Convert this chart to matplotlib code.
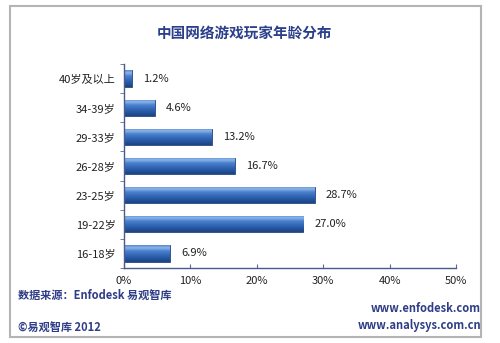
import matplotlib
matplotlib.use("Agg")
import matplotlib.pyplot as plt
import numpy as np
from matplotlib.patches import Rectangle
from matplotlib.colors import LinearSegmentedColormap

plt.rcParams['font.family'] = ['Noto Sans CJK SC', 'DejaVu Sans']

categories = ['16-18岁', '19-22岁', '23-25岁', '26-28岁', '29-33岁', '34-39岁', '40岁及以上']
values = [6.9, 27.0, 28.7, 16.7, 13.2, 4.6, 1.2]
xticks = [0, 10, 20, 30, 40, 50]
xtick_labels = ['0%', '10%', '20%', '30%', '40%', '50%']
title = '中国网络游戏玩家年龄分布'

W, H = 500, 343
fig = plt.figure(figsize=(W / 100, H / 100), dpi=100)
fig.patch.set_facecolor('white')

# outer frame
fig.add_artist(Rectangle((10 / W, 1 - 337 / H), (481 - 10) / W, (337 - 6) / H,
                         transform=fig.transFigure, fill=False,
                         edgecolor='#b4b4b4', linewidth=1.5))

ax = fig.add_axes([124 / W, 1 - 268 / H, (456 - 124) / W, (268 - 64) / H])
ax.set_xlim(0, 50)
ax.set_ylim(-0.5, len(categories) - 0.5)

ypos = np.arange(len(categories))
bh = 0.56
bars = ax.barh(ypos, values, height=bh, color='#3a6ec0', edgecolor='#24487f', linewidth=0.6, zorder=2)

cmap = LinearSegmentedColormap.from_list(
    'bar', [(0.0, '#1b4282'), (0.35, '#2d62b2'), (0.65, '#4a80cc'),
            (0.85, '#8fb8ec'), (1.0, '#5585cc')])
grad = np.linspace(0, 1, 64).reshape(-1, 1)
for b in bars:
    x0, y0 = b.get_x(), b.get_y()
    w, h = b.get_width(), b.get_height()
    im = ax.imshow(grad, extent=(x0, x0 + w, y0, y0 + h), origin='lower',
                   cmap=cmap, aspect='auto', zorder=2.5, interpolation='bicubic')
    im.set_clip_path(b)

ax.set_xlim(0, 50)
ax.set_ylim(-0.5, len(categories) - 0.5)

for y, v in zip(ypos, values):
    ax.annotate(f'{v:.1f}%', xy=(v, y), xytext=(8, 0), textcoords='offset points',
                ha='left', va='center', fontsize=8, color='#222222')

ax.set_yticks(ypos)
ax.set_yticklabels(categories, fontsize=8, color='#222222')
ax.set_yticks(np.arange(-0.5, len(categories), 1.0), minor=True)
ax.set_xticks(xticks)
ax.set_xticklabels(xtick_labels, fontsize=8, color='#222222')
ax.tick_params(axis='y', which='major', length=0, pad=6)
ax.tick_params(axis='y', which='minor', length=3, color='#5a6a9a', direction='out')
ax.tick_params(axis='x', which='major', length=3, color='#5a6a9a', direction='in', pad=6)

for s in ['top', 'right']:
    ax.spines[s].set_visible(False)
for s in ['left', 'bottom']:
    ax.spines[s].set_color('#4a5a8a')
    ax.spines[s].set_linewidth(1.0)

fig.text(245 / W, 1 - 33 / H, title, ha='center', va='center', fontsize=10.5,
         fontweight='bold', color='#2b3f8c')

fc = '#2e3d86'
fig.text(18 / W, 1 - 295 / H, '数据来源：Enfodesk 易观智库', ha='left', va='center',
         fontsize=8, fontweight='bold', color=fc)
fig.text(18 / W, 1 - 328 / H, '©易观智库 2012', ha='left', va='center',
         fontsize=8, fontweight='bold', color=fc)
fig.text(481 / W, 1 - 308 / H, 'www.enfodesk.com', ha='right', va='center',
         fontsize=8, fontweight='bold', color=fc)
fig.text(481 / W, 1 - 325 / H, 'www.analysys.com.cn', ha='right', va='center',
         fontsize=8, fontweight='bold', color=fc)

fig.savefig('out.png', dpi=100, facecolor='white')
